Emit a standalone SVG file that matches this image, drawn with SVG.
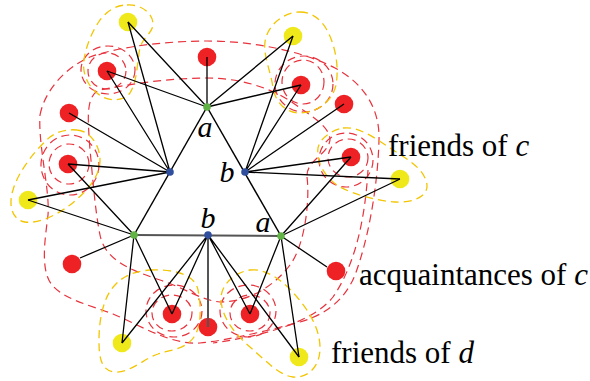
<svg xmlns="http://www.w3.org/2000/svg" width="590" height="381" viewBox="0 0 590 381">
<style>
.rd{fill:none;stroke:#e8323c;stroke-width:1.2;stroke-dasharray:8 5}
.yd{fill:none;stroke:#f2c500;stroke-width:1.3;stroke-dasharray:8 5}
.red{fill:#ee2124}
.yel{fill:#efe81a}
.grn{fill:#62b346}
.blu{fill:#2f4f9e}
.e{stroke:#000;stroke-width:1.3;fill:none}
.t{stroke:#000;stroke-width:1.5}
.g{stroke:#555;stroke-width:2}
.lbl{font-family:"Liberation Serif",serif;font-size:30px;fill:#000}
.lg{font-size:31px}
.it{font-style:italic}
</style>
<rect width="590" height="381" fill="#fff"/>
<g id="contours">
<path class="rd" d="M 40,115 C 45,90 65,68 90,57 C 120,46 170,41 207,41 C 250,41 300,50 335,68 C 365,84 380,110 379,140 C 378,180 370,235 355,275 C 345,300 325,315 300,322 C 270,330 230,340 200,343 C 170,345 140,325 113,314 C 90,305 65,300 52,285 C 40,270 45,240 48,215 C 50,190 38,145 40,115 Z"/>
<path class="rd" d="M 307,177 C 310,200 305,245 290,265 C 275,285 250,302 220,302 C 200,300 185,288 160,280 C 130,270 105,260 100,235 C 95,210 93,180 90,150 C 88,120 85,95 100,90 C 130,84 170,78 207,78 C 240,78 275,88 300,108 C 315,118 330,128 330,140 C 328,155 306,160 307,177 Z"/>
<path class="rd" d="M 368,170 C 365,220 355,265 333,297 C 315,320 270,335 213,343"/>
<ellipse class="rd" cx="107" cy="71" rx="19" ry="18"/>
<ellipse class="rd" cx="108" cy="70" rx="27" ry="24"/>
<ellipse class="rd" cx="303" cy="82" rx="21" ry="22"/>
<ellipse class="rd" cx="304" cy="84" rx="29" ry="28"/>
<ellipse class="rd" cx="348" cy="158" rx="20" ry="19"/>
<ellipse class="rd" cx="346" cy="160" rx="27" ry="27"/>
<ellipse class="rd" cx="69" cy="164" rx="20" ry="20"/>
<ellipse class="rd" cx="70" cy="165" rx="29" ry="30"/>
<ellipse class="rd" cx="172" cy="313" rx="20" ry="18"/>
<ellipse class="rd" cx="174" cy="311" rx="28" ry="26"/>
<ellipse class="rd" cx="250" cy="313" rx="20" ry="18"/>
<ellipse class="rd" cx="248" cy="311" rx="28" ry="26"/>
<path class="yd" d="M 127,5 C 140,4 152,12 153,23 C 154,32 142,38 140,48 C 137,60 138,80 130,93 C 124,101 108,103 97,93 C 87,85 82,72 84,60 C 86,45 93,30 100,20 C 107,11 116,5 127,5 Z"/>
<path class="yd" d="M 300,12 C 312,12 322,20 328,32 C 336,48 339,68 336,85 C 333,100 318,113 300,113 C 287,113 276,104 273,88 C 271,72 263,55 265,42 C 267,26 283,12 300,12 Z"/>
<path class="yd" d="M 343,128 C 358,126 375,138 390,148 C 405,158 425,168 427,185 C 428,198 410,203 395,202 C 378,201 355,195 340,187 C 325,178 316,162 318,148 C 320,138 332,130 343,128 Z"/>
<path class="yd" d="M 77,130 C 90,131 100,145 100,160 C 100,178 85,193 70,205 C 58,214 40,224 25,222 C 12,220 8,205 13,190 C 18,172 35,150 50,137 C 58,131 68,129 77,130 Z"/>
<path class="yd" d="M 150,270 C 170,269 195,273 198,290 C 201,305 202,325 194,337 C 186,349 170,350 158,354 C 145,358 130,373 115,372 C 100,371 99,355 99,340 C 99,318 104,296 115,285 C 125,274 138,271 150,270 Z"/>
<path class="yd" d="M 250,270 C 265,268 283,280 297,297 C 310,312 320,330 320,348 C 320,365 310,378 293,377 C 280,376 265,360 250,347 C 235,334 222,318 221,300 C 220,285 235,272 250,270 Z"/>
</g>
<g id="y1"><circle class="yel" cx="128" cy="22" r="9.3"/></g>
<g id="y2"><circle class="yel" cx="293" cy="36" r="9.3"/></g>
<g id="y3"><circle class="yel" cx="400" cy="179" r="9.3"/></g>
<g id="y4"><circle class="yel" cx="28" cy="200" r="9.3"/></g>
<g id="y5"><circle class="yel" cx="122" cy="343" r="9.3"/></g>
<g id="y6"><circle class="yel" cx="299" cy="357" r="9.3"/></g>
<g id="r1"><circle class="red" cx="207" cy="57" r="9.3"/></g>
<g id="r2"><circle class="red" cx="107" cy="71" r="9.3"/></g>
<g id="r3"><circle class="red" cx="301" cy="85" r="9.3"/></g>
<g id="r4"><circle class="red" cx="344" cy="104" r="9.3"/></g>
<g id="r5"><circle class="red" cx="69" cy="113" r="9.3"/></g>
<g id="r6"><circle class="red" cx="68" cy="164" r="9.3"/></g>
<g id="r7"><circle class="red" cx="351" cy="157" r="9.3"/></g>
<g id="r8"><circle class="red" cx="72" cy="264" r="9.3"/></g>
<g id="r9"><circle class="red" cx="336" cy="271" r="9.3"/></g>
<g id="r10"><circle class="red" cx="172" cy="314" r="9.3"/></g>
<g id="r11"><circle class="red" cx="208" cy="327" r="9.3"/></g>
<g id="r12"><circle class="red" cx="250" cy="314" r="9.3"/></g>
<g id="connectors">
<line class="t" x1="207" y1="107" x2="134" y2="235"/>
<line class="t" x1="207" y1="107" x2="281" y2="236"/>
<line class="g" x1="134" y1="235" x2="281" y2="236"/>
<line class="g" x1="208" y1="235" x2="208" y2="327"/>
<path class="e" d="M207,107 L128,22 M207,107 L107,71 M207,107 L207,57 M207,107 L293,36 M207,107 L301,85"/>
<path class="e" d="M170,172 L128,22 M170,172 L107,71 M170,172 L69,113 M170,172 L68,164 M170,172 L28,200"/>
<path class="e" d="M245,172 L293,36 M245,172 L301,85 M245,172 L344,104 M245,172 L351,157 M245,172 L400,179"/>
<path class="e" d="M134,235 L28,200 M134,235 L68,164 M134,235 L80,258 M134,235 L122,343 M134,235 L172,314"/>
<path class="e" d="M208,235 L122,343 M208,235 L172,314 M208,235 L250,314 M208,235 L299,357"/>
<path class="e" d="M281,236 L250,314 M281,236 L299,357 M281,236 L327,267 M281,236 L351,157 M281,236 L400,179"/>
</g>
<g id="ga1"><circle class="grn" cx="207" cy="107" r="3.8"/><text class="lbl it" x="205" y="137" text-anchor="middle">a</text></g>
<g id="ga2"><circle class="grn" cx="134" cy="235" r="3.8"/></g>
<g id="ga3"><circle class="grn" cx="281" cy="236" r="3.8"/><text class="lbl it" x="263" y="232" text-anchor="middle">a</text></g>
<g id="bb1"><circle class="blu" cx="170" cy="172" r="3.8"/></g>
<g id="bb2"><circle class="blu" cx="245" cy="172" r="3.8"/><text class="lbl it" x="227" y="182" text-anchor="middle">b</text></g>
<g id="bb3"><circle class="blu" cx="208" cy="235" r="3.8"/><text class="lbl it" x="208" y="228" text-anchor="middle">b</text></g>
<g id="legend">
<text class="lbl lg" x="388" y="156">friends of <tspan class="it">c</tspan></text>
<text class="lbl lg" x="359" y="285">acquaintances of <tspan class="it">c</tspan></text>
<text class="lbl lg" x="331" y="363">friends of <tspan class="it">d</tspan></text>
</g>
</svg>
